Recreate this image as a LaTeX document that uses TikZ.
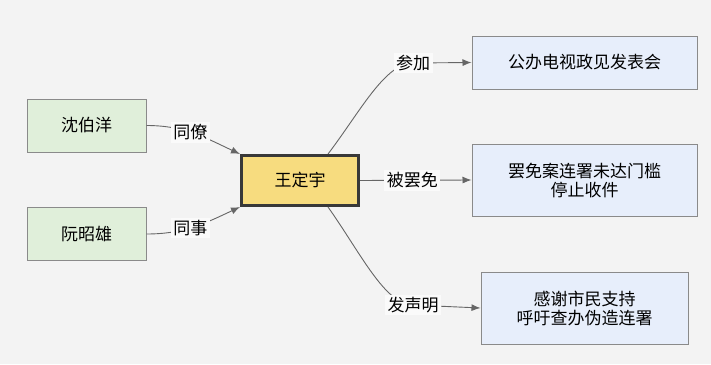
\documentclass[tikz,border=0pt]{standalone}
\usepackage{fontspec}
\setmainfont{Noto Sans CJK SC}
\usetikzlibrary{shapes}
\usetikzlibrary{arrows.meta}

\definecolor{bgcolor}{HTML}{F3F3F3}
\definecolor{greenfill}{HTML}{E0EFDA}
\definecolor{bluefill}{HTML}{E7EEFB}
\definecolor{yellowfill}{HTML}{F7DC7F}
\definecolor{boxline}{HTML}{8A8A8A}
\definecolor{edgeline}{HTML}{666666}
\definecolor{lblfill}{HTML}{FAFAFA}

\begin{document}
\begin{tikzpicture}[x=1pt,y=-1pt,>={Latex[length=9pt,width=7pt]}]
    \tikzstyle{every node}=[font=\fontsize{17}{19}\selectfont,align=center]
    \tikzstyle{person}=[rectangle,draw=boxline,line width=1pt,fill=greenfill,minimum width=119pt,minimum height=53pt]
    \tikzstyle{center}=[rectangle,draw=black!78,line width=3pt,fill=yellowfill,minimum width=117pt,minimum height=50pt]
    \tikzstyle{event}=[rectangle,draw=boxline,line width=1pt,fill=bluefill,minimum height=53pt]
    \tikzstyle{edge}=[draw=edgeline,line width=0.9pt,->]
    \tikzstyle{lbl}=[fill=lblfill,inner sep=2.5pt]

    \fill[bgcolor] (0,0) rectangle (711,364);

    \node[person] (shen) at (86.5,125.5) {沈伯洋};
    \node[person] (ruan) at (86.5,234) {阮昭雄};
    \node[center] (wang) at (300,180.5) {王定宇};
    \node[event,minimum width=225pt] (tv) at (584.5,62.5) {公办电视政见发表会};
    \node[event,minimum width=225pt,minimum height=72pt] (recall) at (584.5,180) {罢免案连署未达门槛\\停止收件};
    \node[event,minimum width=207pt,minimum height=72pt] (thanks) at (584.5,308) {感谢市民支持\\呼吁查办伪造连署};

    \draw[edge] (shen.east) to[out=0,in=155] node[lbl,pos=0.45]{同僚} (wang.north west);
    \draw[edge] (ruan.east) to[out=0,in=205] node[lbl,pos=0.45]{同事} (wang.south west);
    \draw[edge] ([xshift=28pt]wang.north) .. controls (360,112) and (385,63) .. (413,63) node[lbl]{参加} -- (tv.west);
    \draw[edge] (wang.east) -- node[lbl,pos=0.47]{被罢免} (recall.west);
    \draw[edge] ([xshift=28pt]wang.south) .. controls (360,252) and (385,305) .. (413,305) node[lbl]{发声明} -- (thanks.west);
\end{tikzpicture}
\end{document}
